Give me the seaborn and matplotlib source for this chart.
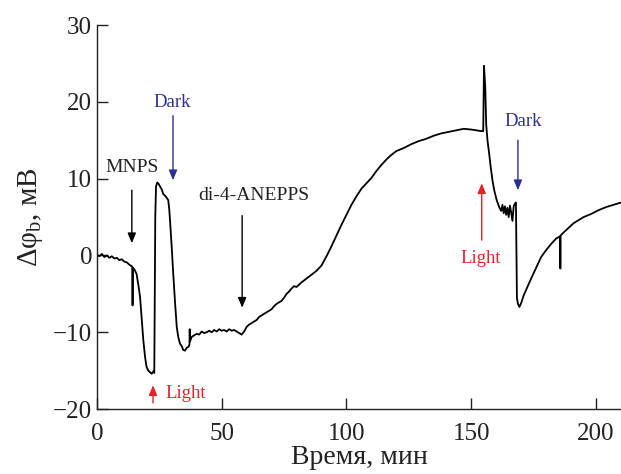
import matplotlib
matplotlib.use("Agg")
import matplotlib.pyplot as plt
import seaborn as sns
import pandas as pd

# time (min) and potential (mV)
time_min = [0, 1, 2, 3, 4, 5, 6, 7, 8, 9, 10, 11, 12, 13, 14,
            14.2, 14.3, 14.4, 15, 15.9, 16.6, 17.3, 18, 18.6, 19.3, 19.9, 20.6,
            21.3, 22, 22.6, 23.0, 23.2, 23.4, 23.7, 24.2, 24.6, 25.3, 26, 26.6,
            27.3, 28, 28.6, 29.0, 29.3, 30.0, 30.6, 31.3, 32, 32.6, 33.3, 34,
            34.6, 35.3, 36, 36.7, 37.1, 37.2, 37.3, 38, 39, 40, 41, 42, 43, 44,
            45, 46, 47, 48, 49, 50, 51, 52, 53, 54, 55, 56, 57, 58, 59, 60, 61,
            62, 63, 64, 65, 66, 67, 68, 69, 70, 71, 72, 73, 74, 75, 76, 77, 78,
            79, 80, 82, 84, 86, 88, 90, 92, 94, 96, 98, 100, 102, 104, 106, 108,
            110, 112, 114, 116, 118, 120, 123, 126, 129, 132, 135, 138, 141, 144,
            147, 150, 152, 154, 154.8, 155.1, 155.6, 156.0, 156.5, 157.2, 157.8,
            158.5, 159.2, 160.2, 161.2, 162, 162.5, 163, 163.5, 164, 164.5, 165,
            165.5, 166, 166.5, 167, 167.6, 167.9, 168.1, 168.3, 168.7, 169.3, 170,
            171, 172.5, 174, 176, 178, 180, 182, 184, 185.6, 185.7, 185.8, 187,
            189, 191, 193, 195, 198, 201, 204, 207, 210]
potential_mv = [0.1, -0.1, 0.2, -0.2, 0.0, -0.3, -0.1, -0.4, -0.3, -0.6, -0.5, -0.8, -0.9, -1.2, -1.4,
                -1.5, -6.5, -1.6, -1.8, -2.4, -3.8, -5.4, -8.5, -11.0, -13.2, -14.5, -15.0,
                -15.2, -15.4, -15.1, -15.3, -5.0, 5.0, 9.0, 9.5, 9.4, 9.0, 8.6, 8.0,
                7.8, 7.5, 7.2, 6.0, 4.6, 1.0, -2.4, -6.0, -9.3, -10.6, -11.5, -11.8,
                -12.3, -12.4, -12.0, -11.9, -11.6, -9.6, -11.2, -10.6, -10.4, -10.2, -10.3, -9.9, -10.1, -10.0,
                -9.8, -10.0, -9.7, -9.9, -9.6, -9.8, -9.7, -9.9, -9.6, -9.8, -9.7, -9.9, -10.1, -10.3, -9.9, -9.3, -9.0,
                -8.8, -8.6, -8.4, -8.0, -7.8, -7.6, -7.4, -7.2, -7.0, -6.6, -6.3, -6.1, -5.9, -5.5, -5.0, -4.7, -4.3,
                -4.0, -4.1, -3.5, -3.0, -2.5, -2.0, -1.3, -0.1, 1.2, 2.6, 4.0, 5.3, 6.6, 7.7, 8.7, 9.4,
                10.1, 11.0, 11.8, 12.5, 13.1, 13.6, 14.0, 14.5, 14.9, 15.2, 15.6, 15.9, 16.1, 16.3,
                16.5, 16.4, 16.3, 16.2, 16.2, 24.7, 22.0, 17.0, 15.0, 13.2, 11.5,
                9.8, 8.5, 7.2, 6.3, 5.8, 6.6, 5.5, 6.4, 5.3, 6.2, 5.0,
                6.5, 5.6, 4.5, 6.4, 6.8, 6.9, 0.0, -5.5, -6.3, -6.7, -6.2,
                -5.2, -4.1, -3.0, -1.6, -0.2, 0.7, 1.5, 2.2, 2.5, -1.7, 2.6, 3.0,
                3.6, 4.2, 4.6, 5.0, 5.4, 5.9, 6.3, 6.6, 6.9]

x_ticks = [0, 50, 100, 150, 200]
y_ticks = [-20, -10, 0, 10, 20, 30]

sns.set_style("white")
plt.rcParams["font.family"] = ["Liberation Serif", "DejaVu Serif"]
plt.rcParams["mathtext.fontset"] = "custom"
plt.rcParams["mathtext.rm"] = "Liberation Serif"
plt.rcParams["mathtext.it"] = "Liberation Serif:italic"

df = pd.DataFrame({"t": time_min, "v": potential_mv})

fig = plt.figure(figsize=(6.21, 4.74), dpi=100)
ax = fig.add_axes([0.156, 0.137, 0.844, 0.810])
sns.lineplot(data=df, x="t", y="v", estimator=None, sort=False,
             color="black", linewidth=1.3, ax=ax)

ax.set_xlim(0, 210)
ax.set_ylim(-20, 30)
ax.set_xticks(x_ticks)
ax.set_yticks(y_ticks)
ax.tick_params(direction="in", length=8, width=1, labelsize=18, colors="#222222",
               left=True, bottom=True)
ax.tick_params(axis="x", pad=10)
for s in ["top", "right"]:
    ax.spines[s].set_visible(False)
for s in ["left", "bottom"]:
    ax.spines[s].set_color("#222222")
    ax.spines[s].set_linewidth(1.0)

ax.set_xlabel("Время, мин", fontsize=20, color="#222222", labelpad=0)
ax.set_ylabel(r"Δφ$_\mathrm{b}$, мВ", fontsize=21, color="#222222", labelpad=6)

blue = "#2b2f8f"
red = "#e8202a"
arrow_kw = dict(arrowstyle="-|>,head_length=0.6,head_width=0.25", lw=1.0,
                shrinkA=0, shrinkB=0)

def arr(x, y0, y1, c):
    ax.annotate("", xy=(x, y1), xytext=(x, y0),
                arrowprops=dict(color=c, **arrow_kw))

arr(14, 8.5, 1.6, "black")
ax.text(14, 11.5, "MNPS", ha="center", va="center", fontsize=14, color="#222222")

arr(30.5, 18.2, 9.8, blue)
ax.text(30, 19.9, "Dark", ha="center", va="center", fontsize=13.5, color=blue)

arr(58.2, 5.2, -6.8, "black")
ax.text(63, 7.8, "di-4-ANEPPS", ha="center", va="center", fontsize=14, color="#222222")

arr(22.5, -19.2, -16.9, red)
ax.text(27.3, -18.0, "Light", ha="left", va="center", fontsize=13.5, color=red)

arr(168.7, 15.0, 8.5, blue)
ax.text(171, 17.4, "Dark", ha="center", va="center", fontsize=13.5, color=blue)

arr(154.2, 2.0, 9.4, red)
ax.text(153.8, -0.4, "Light", ha="center", va="center", fontsize=13.5, color=red)

fig.savefig("out.png", dpi=100)
